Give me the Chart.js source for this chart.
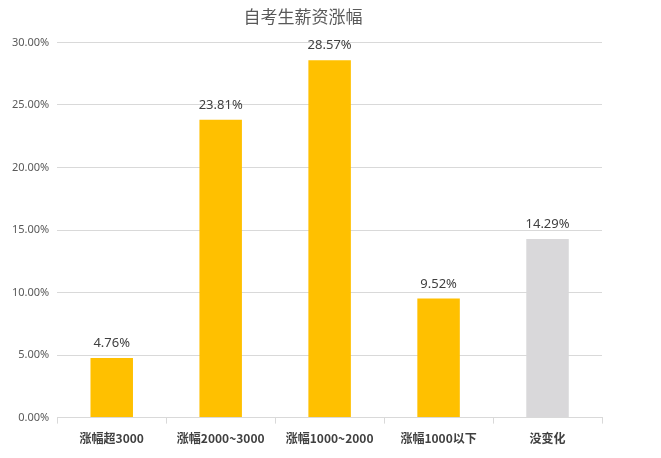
<!DOCTYPE html>
<html>
<head>
<meta charset="utf-8">
<script src="https://cdn.jsdelivr.net/npm/chart.js@4"></script>
<style>
  body { margin: 0; background: #fff; }
  #wrap { width: 661px; height: 458px; }
</style>
</head>
<body>
<div id="wrap"><canvas id="barChart"></canvas></div>
<script>
const categories = ['涨幅超3000', '涨幅2000~3000', '涨幅1000~2000', '涨幅1000以下', '没变化'];
const values = [4.76, 23.81, 28.57, 9.52, 14.29];
const barColors = ['#FFC000', '#FFC000', '#FFC000', '#FFC000', '#D9D8DA'];

// draws the percentage above each bar
const valueLabels = {
  id: 'valueLabels',
  afterDatasetsDraw(chart) {
    const ctx = chart.ctx;
    const meta = chart.getDatasetMeta(0);
    ctx.save();
    ctx.font = '13px "Noto Sans", sans-serif';
    ctx.fillStyle = '#404040';
    ctx.textAlign = 'center';
    ctx.textBaseline = 'bottom';
    meta.data.forEach((bar, i) => {
      ctx.fillText(values[i].toFixed(2) + '%', bar.x, bar.y - 8);
    });
    ctx.restore();
  }
};

const ctx = document.getElementById('barChart');

new Chart(ctx, {
  type: 'bar',
  data: {
    labels: categories,
    datasets: [{
      data: values,
      backgroundColor: barColors,
      barPercentage: 0.39,
      categoryPercentage: 1
    }]
  },
  options: {
    responsive: true,
    maintainAspectRatio: false,
    animation: false,
    layout: { padding: { top: 6, right: 59, left: 4, bottom: 4 } },
    plugins: {
      legend: { display: false },
      tooltip: { enabled: false },
      title: {
        display: true,
        text: '自考生薪资涨幅',
        color: '#595959',
        font: { size: 17, family: '"Noto Sans CJK SC", sans-serif', weight: 'normal' },
        padding: { top: 0, bottom: 16 }
      }
    },
    scales: {
      y: {
        min: 0,
        max: 30,
        ticks: {
          stepSize: 5,
          color: '#595959',
          font: { size: 11, family: '"Noto Sans", sans-serif' },
          callback: v => v.toFixed(2) + '%',
          padding: 8
        },
        grid: { color: '#D9D9D9', drawTicks: false },
        border: { display: false }
      },
      x: {
        offset: true,
        ticks: {
          color: '#404040',
          font: { size: 12, weight: 'bold', family: '"Noto Sans CJK SC", sans-serif' },
          padding: 8
        },
        grid: { offset: true, drawOnChartArea: false, color: '#D9D9D9', tickLength: 6 },
        border: { color: '#D9D9D9' }
      }
    }
  },
  plugins: [valueLabels]
});
</script>
</body>
</html>
